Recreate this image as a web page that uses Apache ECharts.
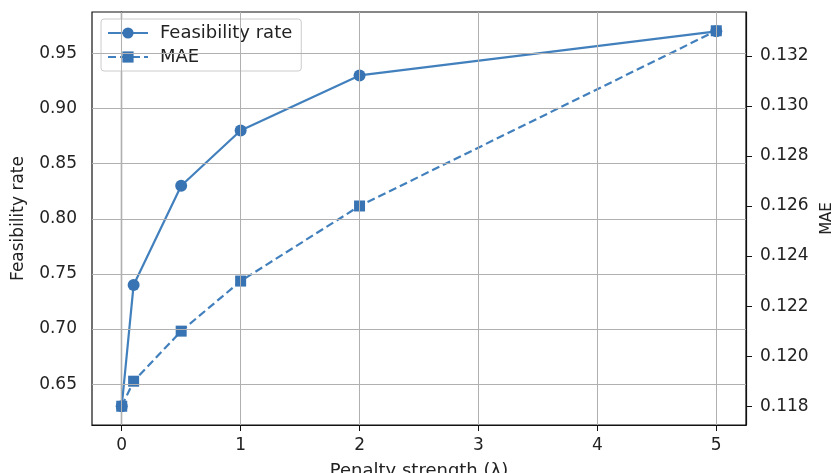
<!DOCTYPE html>
<html>
<head>
<meta charset="utf-8">
<script src="https://cdn.jsdelivr.net/npm/echarts@6/dist/echarts.min.js"></script>
<style>html,body{margin:0;padding:0;background:#fff;}#c{width:832px;height:473px;}</style>
</head>
<body>
<div id="c"></div>
<script>
const lambdas = [0, 0.1, 0.5, 1, 2, 5];
const feasibility = [0.63, 0.74, 0.83, 0.88, 0.93, 0.97];
const mae = [0.118, 0.119, 0.121, 0.123, 0.126, 0.133];
const xTicks = [0, 1, 2, 3, 4, 5];
const leftTicks = [0.65, 0.70, 0.75, 0.80, 0.85, 0.90, 0.95];
const rightTicks = [0.118, 0.120, 0.122, 0.124, 0.126, 0.128, 0.130, 0.132];

const lineColor = '#4280bd';
const markColor = '#3874b3';
const font = 'DejaVu Sans';
const chart = echarts.init(document.getElementById('c'));
chart.setOption({
  animation: false,
  backgroundColor: '#fff',
  textStyle: {fontFamily: font},
  grid: {left: 92, right: 86, top: 12, bottom: 48, outerBoundsMode: 'none', containLabel: false,
    show: true, borderColor: '#111', borderWidth: 1.2, backgroundColor: 'transparent'},
  legend: {
    left: 101, top: 19, orient: 'vertical', itemGap: 6, itemWidth: 40, itemHeight: 14,
    padding: [5, 9, 5, 6],
    borderColor: '#cccccc', borderWidth: 1, borderRadius: 3, backgroundColor: 'rgba(255,255,255,0.85)',
    textStyle: {fontFamily: font, fontSize: 18, color: '#222', padding: [0, 0, 0, 7]},
    data: ['Feasibility rate', 'MAE']
  },
  xAxis: {
    type: 'value', min: -0.25, max: 5.25, interval: 1,
    name: 'Penalty strength (λ)', nameLocation: 'middle', nameGap: 37,
    nameTextStyle: {fontFamily: font, fontSize: 18, color: '#222'},
    axisLine: {show: true, lineStyle: {color: '#111', width: 1.2}},
    axisTick: {show: true, length: 6, lineStyle: {color: '#111'}, customValues: xTicks},
    axisLabel: {fontSize: 17, color: '#222', margin: 12,
      customValues: xTicks, formatter: v => String(v)},
    splitLine: {show: false}
  },
  yAxis: [{
    type: 'value', min: 0.613, max: 0.9875, position: 'left',
    name: 'Feasibility rate', nameLocation: 'middle', nameGap: 65,
    nameTextStyle: {fontFamily: font, fontSize: 17, color: '#222'},
    axisLine: {show: true, lineStyle: {color: '#111', width: 1.2}},
    axisTick: {show: true, length: 6, lineStyle: {color: '#111'}, customValues: leftTicks},
    axisLabel: {fontSize: 17, color: '#222', margin: 15, customValues: leftTicks, formatter: v => v.toFixed(2)},
    splitLine: {show: false}
  }, {
    type: 'value', min: 0.11725, max: 0.13375, position: 'right',
    name: 'MAE', nameLocation: 'middle', nameGap: 72,
    nameTextStyle: {fontFamily: font, fontSize: 15, color: '#222'},
    axisLine: {show: true, lineStyle: {color: '#111', width: 1.2}},
    axisTick: {show: true, length: 6, lineStyle: {color: '#111'}, customValues: rightTicks},
    axisLabel: {fontSize: 17, color: '#222', margin: 14, customValues: rightTicks, formatter: v => v.toFixed(3)},
    splitLine: {show: false}
  }],
  series: [
    {type: 'line', name: 'gridX', silent: true, data: [], markLine: {silent: true, symbol: 'none', label: {show: false},
      lineStyle: {color: '#b0b0b0', width: 1, type: 'solid'},
      data: xTicks.map(v => ({xAxis: v}))}},
    {type: 'line', name: 'gridY', silent: true, yAxisIndex: 0, data: [], markLine: {silent: true, symbol: 'none', label: {show: false},
      lineStyle: {color: '#b0b0b0', width: 1, type: 'solid'},
      data: leftTicks.map(v => ({yAxis: v}))}},
    {type: 'line', name: 'Feasibility rate', yAxisIndex: 0,
      data: lambdas.map((x, i) => [x, feasibility[i]]),
      symbol: 'circle', symbolSize: 12,
      lineStyle: {color: lineColor, width: 2.2},
      itemStyle: {color: markColor}},
    {type: 'line', name: 'MAE', yAxisIndex: 1,
      data: lambdas.map((x, i) => [x, mae[i]]),
      symbol: 'rect', symbolSize: 11,
      lineStyle: {color: lineColor, width: 2.2, type: [8, 4]},
      itemStyle: {color: markColor}}
  ]
});
</script>
</body>
</html>
